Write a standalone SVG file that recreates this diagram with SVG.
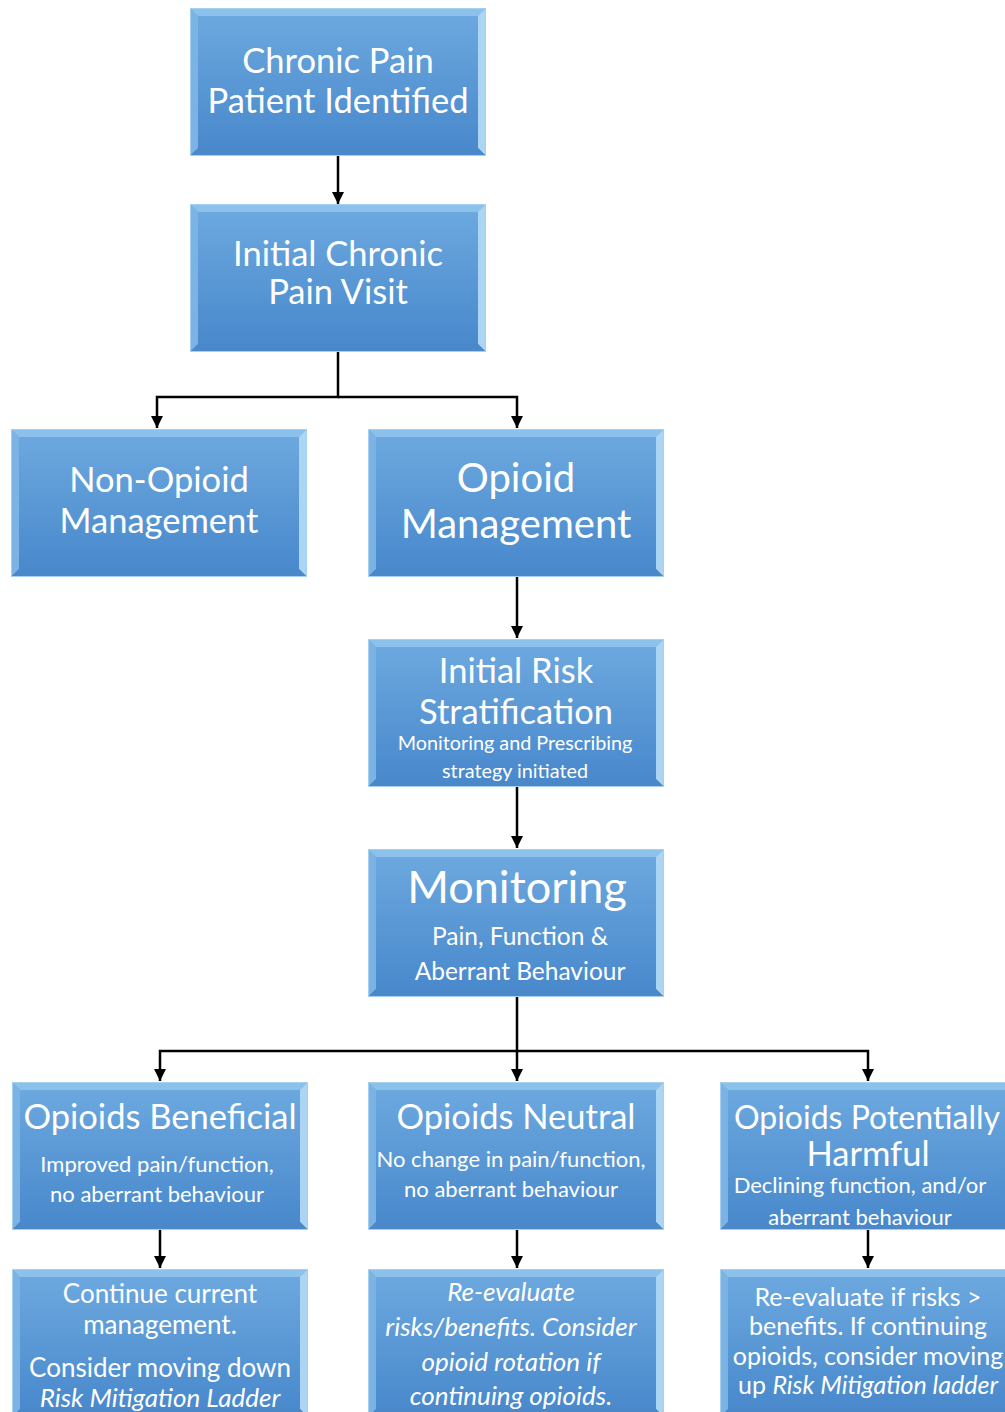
<svg xmlns="http://www.w3.org/2000/svg" width="1005" height="1412" viewBox="0 0 1005 1412">
<style>
text{font-family:Lato,"Open Sans","Liberation Sans",sans-serif;fill:#fff;text-anchor:middle}
.t{font-size:34.5px}
.s{font-size:22px}
.m{font-size:26px}
.r{font-size:25px}
.i{font-style:italic}
.c{stroke:#000;stroke-width:2.5;fill:none}
</style>
<defs>
<linearGradient id="g" x1="0" y1="0" x2="0" y2="1">
<stop offset="0" stop-color="#6eaae0"/>
<stop offset="1" stop-color="#4787cb"/>
</linearGradient>
<g id="box">
<rect x="0" y="0" width="296" height="148" fill="url(#g)"/>
<polygon points="0,0 296,0 288,8 8,8" fill="#8cc1ec"/>
<polygon points="0,0 8,8 8,140 0,148" fill="#7cb3e5"/>
<polygon points="296,0 296,148 288,140 288,8" fill="#acd5f4"/>
<polygon points="0,148 296,148 288,140 8,140" fill="#4a88ca"/>
<rect x="0.5" y="0.5" width="295" height="147" fill="none" stroke="#a5d0f0" stroke-width="1"/>
</g>
<marker id="a" viewBox="0 0 12 12" refX="12" refY="6" markerWidth="12" markerHeight="12" markerUnits="userSpaceOnUse" orient="auto">
<path d="M0,0 L12,6 L0,12 z" fill="#000"/>
</marker>
</defs>
<g id="connectors">
<path class="c" d="M338,156 V204" marker-end="url(#a)"/>
<path class="c" d="M338,351 V397 H157 V428" marker-end="url(#a)"/>
<path class="c" d="M338,397 H517 V428" marker-end="url(#a)"/>
<path class="c" d="M517,577 V638" marker-end="url(#a)"/>
<path class="c" d="M517,787 V848" marker-end="url(#a)"/>
<path class="c" d="M517,997 V1051 H160 V1081" marker-end="url(#a)"/>
<path class="c" d="M517,1051 V1081" marker-end="url(#a)"/>
<path class="c" d="M517,1051 H868 V1081" marker-end="url(#a)"/>
<path class="c" d="M160,1230 V1268" marker-end="url(#a)"/>
<path class="c" d="M517,1230 V1268" marker-end="url(#a)"/>
<path class="c" d="M868,1230 V1268" marker-end="url(#a)"/>
</g>
<g id="n1"><use href="#box" x="190" y="8"/>
<text class="t" x="338" y="73">Chronic Pain</text>
<text class="t" x="338" y="113">Patient Identified</text></g>
<g id="n2"><use href="#box" x="190" y="204"/>
<text class="t" x="338" y="266">Initial Chronic</text>
<text class="t" x="338" y="304">Pain Visit</text></g>
<g id="n3"><use href="#box" x="11" y="429"/>
<text class="t" x="159" y="492">Non-Opioid</text>
<text class="t" x="159" y="533">Management</text></g>
<g id="n4"><use href="#box" x="368" y="429"/>
<text x="516" y="492" style="font-size:40px">Opioid</text>
<text x="516" y="538" style="font-size:40px">Management</text></g>
<g id="n5"><use href="#box" x="368" y="639"/>
<text class="t" x="516" y="683">Initial Risk</text>
<text class="t" x="516" y="724">Stratification</text>
<text x="515" y="750" style="font-size:19.8px">Monitoring and Prescribing</text>
<text x="515" y="778" style="font-size:19.8px">strategy initiated</text></g>
<g id="n6"><use href="#box" x="368" y="849"/>
<text x="517" y="903" style="font-size:45px">Monitoring</text>
<text x="520" y="945" style="font-size:24.5px">Pain, Function &amp;</text>
<text x="520" y="980" style="font-size:24.5px">Aberrant Behaviour</text></g>
<g id="n7"><use href="#box" x="12" y="1082"/>
<text class="t" x="160" y="1129">Opioids Beneficial</text>
<text class="s" x="157" y="1172">Improved pain/function,</text>
<text class="s" x="157" y="1202">no aberrant behaviour</text></g>
<g id="n8"><use href="#box" x="368" y="1082"/>
<text class="t" x="516" y="1129">Opioids Neutral</text>
<text class="s" x="511" y="1167">No change in pain/function,</text>
<text class="s" x="511" y="1197">no aberrant behaviour</text></g>
<g id="n9"><use href="#box" x="720" y="1082"/>
<text x="867" y="1129" style="font-size:32px">Opioids Potentially</text>
<text class="t" x="868" y="1166">Harmful</text>
<text class="s" x="860" y="1193">Declining function, and/or</text>
<text class="s" x="860" y="1225">aberrant behaviour</text></g>
<g id="n10"><use href="#box" x="12" y="1269"/>
<text class="m" x="160" y="1303">Continue current</text>
<text class="m" x="160" y="1334">management.</text>
<text class="m" x="160" y="1377">Consider moving down</text>
<text class="m i" x="160" y="1407">Risk Mitigation Ladder</text></g>
<g id="n11"><use href="#box" x="368" y="1269"/>
<text class="m i" x="511" y="1301">Re-evaluate</text>
<text class="m i" x="511" y="1336">risks/benefits. Consider</text>
<text class="m i" x="511" y="1371">opioid rotation if</text>
<text class="m i" x="511" y="1405">continuing opioids.</text></g>
<g id="n12"><use href="#box" x="720" y="1269"/>
<text class="r" x="868" y="1306">Re-evaluate if risks &gt;</text>
<text class="r" x="868" y="1335">benefits. If continuing</text>
<text class="r" x="868" y="1365">opioids, consider moving</text>
<text class="r" x="868" y="1394">up <tspan class="i">Risk Mitigation ladder</tspan></text></g>
</svg>
